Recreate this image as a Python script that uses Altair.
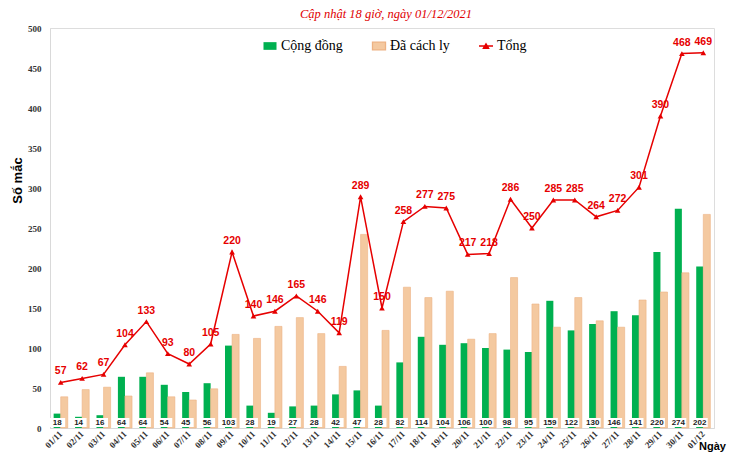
import altair as alt
import pandas as pd

dates = ["01/11", "02/11", "03/11", "04/11", "05/11", "06/11", "07/11", "08/11", "09/11", "10/11",
         "11/11", "12/11", "13/11", "14/11", "15/11", "16/11", "17/11", "18/11", "19/11", "20/11",
         "21/11", "22/11", "23/11", "24/11", "25/11", "26/11", "27/11", "28/11", "29/11", "30/11", "01/12"]
cong_dong = [18, 14, 16, 64, 64, 54, 45, 56, 103, 28, 19, 27, 28, 42, 47, 28, 82, 114, 104, 106,
             100, 98, 95, 159, 122, 130, 146, 141, 220, 274, 202]
cach_ly = [39, 48, 51, 40, 69, 39, 35, 49, 117, 112, 127, 138, 118, 77, 242, 122, 176, 163, 171, 111,
           118, 188, 155, 126, 163, 134, 126, 160, 170, 194, 267]
tong = [57, 62, 67, 104, 133, 93, 80, 105, 220, 140, 146, 165, 146, 119, 289, 150, 258, 277, 275, 217,
        218, 286, 250, 285, 285, 264, 272, 301, 390, 468, 469]
title_text = ["Cập nhật 18 giờ, ngày 01/12/2021"]

S1, S2, S3 = "Cộng đồng", "Đã cách ly", "Tổng"
GREEN, BEIGE, RED = "#00B050", "#F4C9A0", "#E60000"

bars = pd.DataFrame(
    [{"date": d, "series": S1, "value": v} for d, v in zip(dates, cong_dong)]
    + [{"date": d, "series": S2, "value": v} for d, v in zip(dates, cach_ly)]
)
tot = pd.DataFrame({"date": dates, "total": tong, "cd": cong_dong, "s": [S1] * len(dates)})

xenc = alt.X(
    "date:N", sort=dates,
    scale=alt.Scale(paddingInner=0.34, paddingOuter=0.17),
    axis=alt.Axis(
        title="Ngày", titleFont="Liberation Sans", titleFontSize=11, titleFontWeight="bold",
        titleColor="#000", titleX=662, titleY=18, titleAlign="center", titleBaseline="middle",
        labelAngle=-45, labelAlign="right", labelBaseline="middle", labelFont="Liberation Serif",
        labelFontWeight="bold", labelFontSize=9, labelColor="#333", labelPadding=4,
        ticks=False, domainColor="#D9D9D9", labelOverlap=False,
    ),
)
yaxis = alt.Axis(
    title="Số mắc", titleFont="Liberation Sans", titleFontSize=13, titleFontWeight="bold",
    titleColor="#000", titleAngle=-90, titleX=-33, titleY=152, titleAlign="center",
    titleBaseline="middle", values=list(range(0, 501, 50)), labelFont="Liberation Serif",
    labelFontWeight="bold", labelFontSize=9, labelColor="#333", labelPadding=9,
    labelOverlap=False, ticks=False, grid=False, domainColor="#D9D9D9",
)
yscale = alt.Scale(domain=[0, 500], nice=False)
xoff_scale = alt.Scale(domain=[S1, S2])

legend = alt.Legend(
    title=None, orient="none", direction="horizontal", legendX=212, legendY=10,
    labelFont="Liberation Serif", labelFontSize=14, labelColor="#000", columnPadding=26,
    labelOffset=3, symbolSize=196,
    symbolType=alt.ExprRef(expr="datum.value == 'Tổng' ? 'M-1,0H1M-0.38,0.32L0,-0.32L0.38,0.32Z' : 'M-0.93,-0.55H0.93V0.55H-0.93Z'"),
    symbolStrokeColor=alt.ExprRef(expr="datum.value == 'Tổng' ? '#E60000' : (datum.value == 'Đã cách ly' ? '#EDB283' : 'transparent')"),
    symbolStrokeWidth=1.3,
)

bar_layer = alt.Chart(bars).mark_bar(strokeWidth=0.6).encode(
    x=xenc,
    xOffset=alt.XOffset("series:N", scale=xoff_scale),
    y=alt.Y("value:Q", scale=yscale, axis=yaxis),
    color=alt.Color("series:N", scale=alt.Scale(domain=[S1, S2, S3], range=[GREEN, BEIGE, RED]), legend=legend),
    stroke=alt.condition(f"datum.series == '{S2}'", alt.value("#EDB283"), alt.value("transparent")),
)

box_layer = alt.Chart(tot).mark_bar(width=16, color="white").encode(
    x=alt.X("date:N", sort=dates),
    xOffset=alt.XOffset("s:N", scale=xoff_scale),
    y=alt.value(390), y2=alt.value(399),
)
cd_text = alt.Chart(tot).mark_text(
    font="Liberation Sans", fontWeight="bold", fontSize=8, color="#222", baseline="middle"
).encode(
    x=alt.X("date:N", sort=dates),
    xOffset=alt.XOffset("s:N", scale=xoff_scale),
    y=alt.value(395),
    text="cd:Q",
)

line_layer = alt.Chart(tot).mark_line(
    color=RED, strokeWidth=1.5,
    point=alt.OverlayMarkDef(shape="triangle-up", size=32, filled=True, color=RED),
).encode(
    x=alt.X("date:N", sort=dates),
    y=alt.Y("total:Q", scale=yscale, axis=yaxis),
)
tot_text = alt.Chart(tot).mark_text(
    font="Liberation Sans", fontWeight="bold", fontSize=10.5, color=RED, dy=-11, baseline="middle"
).encode(
    x=alt.X("date:N", sort=dates),
    y=alt.Y("total:Q", scale=yscale, axis=yaxis),
    text="total:Q",
)

title_layer = alt.Chart(pd.DataFrame({"t": title_text})).mark_text(
    font="Liberation Serif", fontStyle="italic", fontSize=12.5, color="#E00000",
    align="center", baseline="alphabetic",
).encode(x=alt.value(336), y=alt.value(-10), text="t:N")

chart = alt.layer(bar_layer, box_layer, cd_text, line_layer, tot_text, title_layer).properties(
    width=664, height=400,
    autosize=alt.AutoSizeParams(type="none"),
    padding={"left": 42, "top": 20, "right": 14, "bottom": 24},
).configure_view(stroke=None).configure(background="white")

chart.save("out.html", embed_options={"renderer": "svg", "actions": False})
